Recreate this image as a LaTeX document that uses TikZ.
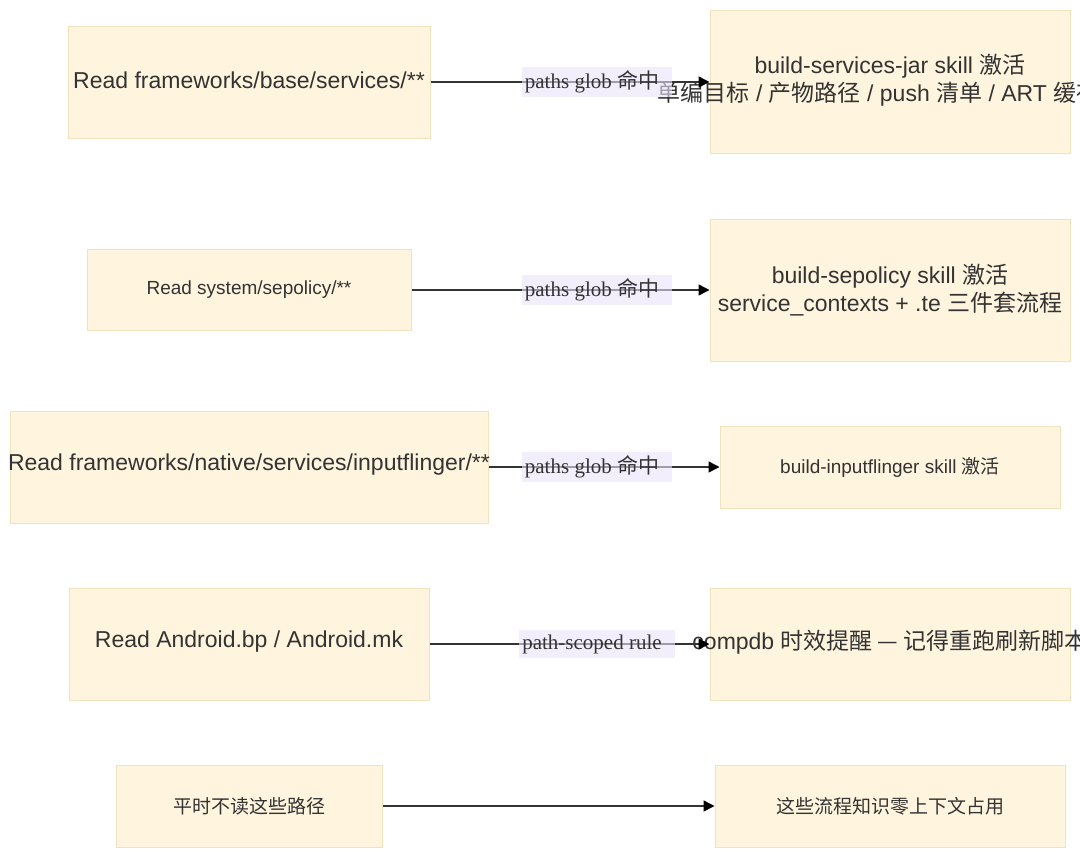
\documentclass[tikz,border=0pt]{standalone}
\usepackage{fontspec}
\setmainfont{Liberation Sans}
\newfontfamily\lblfont{Liberation Serif}
\newfontfamily\cjkfont{Noto Sans CJK SC}
\newcommand{\zh}[1]{{\cjkfont #1}}
\usetikzlibrary{arrows.meta, positioning}

\definecolor{boxfill}{HTML}{FFF4DD}
\definecolor{boxline}{HTML}{F0E2BC}
\definecolor{txtgray}{HTML}{333333}
\definecolor{lblfill}{HTML}{EBE3FA}

\begin{document}
\begin{tikzpicture}[x=1pt, y=-1pt, node distance=641pt, thick, auto=center]
                \tikzstyle{box} = [rectangle, draw=boxline, fill=boxfill, line width=1pt, inner sep=0pt]
                \tikzstyle{big} = [text=txtgray, font=\fontsize{23}{28}\selectfont, align=center, inner sep=0pt]
                \tikzstyle{small} = [text=txtgray, font=\fontsize{19}{23}\selectfont, align=center, inner sep=0pt]
                \tikzstyle{edgelbl} = [fill=lblfill, fill opacity=0.6, text opacity=1, text=txtgray, font=\lblfont\fontsize{21}{25}\selectfont, inner xsep=3pt, inner ysep=4pt, execute at end node=\hspace{10pt}]
                \tikzstyle{flow} = [draw=txtgray, line width=1.5pt, -{Triangle[length=11pt, width=11pt, color=black]}]

                \useasboundingbox (0,0) rectangle (1080,857);

                % Read nodes (left column)
                \node[box, minimum width=362pt, minimum height=112pt, label={[big, yshift=2pt]center:Read frameworks/base/services/**}] (l1) at (249,82) {};
                \node[box, minimum width=324pt, minimum height=81pt, label={[small]center:Read system/sepolicy/**}] (l2) at (249,290) {};
                \node[box, minimum width=478pt, minimum height=112pt, label={[big, yshift=2pt]center:Read frameworks/native/services/inputflinger/**}] (l3) at (249,467) {};
                \node[box, minimum width=360pt, minimum height=112pt, label={[big, yshift=2pt]center:Read Android.bp / Android.mk}] (l4) at (249,644) {};
                \node[box, minimum width=266pt, minimum height=82pt, label={[small]center:\zh{平时不读这些路径}}] (l5) at (249,806) {};

                % Skill nodes (right column)
                \node[box, minimum width=360pt, minimum height=143pt, label={[big, yshift=2pt]center:build-services-jar skill \zh{激活}\\\zh{单编目标} / \zh{产物路径} / push \zh{清单} / ART \zh{缓存等}}] (r1) [right of=l1] {};
                \node[box, minimum width=360pt, minimum height=142pt, label={[big]center:build-sepolicy skill \zh{激活}\\service\_contexts + .te \zh{三件套流程}}] (r2) [right of=l2] {};
                \node[box, minimum width=340pt, minimum height=82pt, label={[small]center:build-inputflinger skill \zh{激活}}] (r3) [right of=l3] {};
                \node[box, minimum width=360pt, minimum height=112pt, label={[big, yshift=2pt]center:compdb \zh{时效提醒 — 记得重跑刷新脚本}}] (r4) [right of=l4] {};
                \node[box, minimum width=350pt, minimum height=82pt, label={[small]center:\zh{这些流程知识零上下文占用}}] (r5) [right of=l5] {};

                \draw[flow] (l1) -- (r1);
                \draw[flow] (l2) -- (r2);
                \draw[flow] (l3) -- (r3);
                \draw[flow] (l4) -- (r4);
                \draw[flow] (l5) -- (r5);

                % Edge labels
                \node[edgelbl] (e1) at (597,82) {paths glob \zh{命中}};
                \node[edgelbl] (e2) at (597,290) {paths glob \zh{命中}};
                \node[edgelbl] (e3) at (597,467) {paths glob \zh{命中}};
                \node[edgelbl] (e4) at (597,644) {path-scoped rule};
            \end{tikzpicture}
\end{document}
